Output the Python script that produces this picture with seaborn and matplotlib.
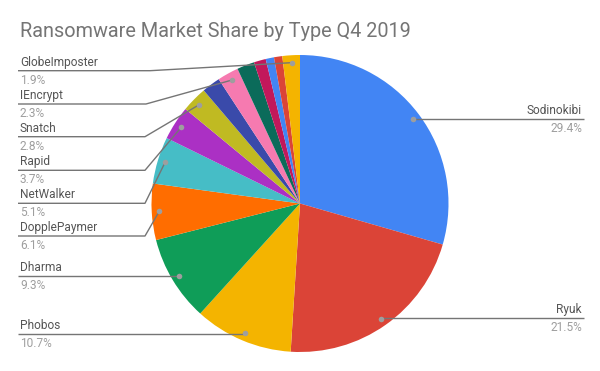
import numpy as np
import matplotlib
matplotlib.use("Agg")
import matplotlib.pyplot as plt
import seaborn as sns

# ransomware share, clockwise from 12 o'clock
families = ["Sodinokibi", "Ryuk", "Phobos", "Dharma", "DopplePaymer", "NetWalker",
            "Rapid", "Snatch", "Other A", "IEncrypt", "Other B", "Other C",
            "Other D", "Other E", "GlobeImposter"]
shares = [29.4, 21.5, 10.7, 9.3, 6.1, 5.1, 3.7, 2.8, 2.0, 2.3, 1.9, 1.3, 0.9, 0.9, 1.9]
colors = ["#4285F4", "#DB4437", "#F4B400", "#0F9D58", "#FF6D00", "#46BDC6",
          "#AB30C4", "#C0BA22", "#3A4AAA", "#F67AB0", "#0B6B5A", "#C2185B",
          "#4285F4", "#DB4437", "#F4B400"]

# which slices get a callout: (name, side, underline y px, elbow x px)
callouts = [
    ("Sodinokibi", "right", 118.7, None),
    ("Ryuk", "right", 318.3, None),
    ("Phobos", "left", 334.0, None),
    ("Dharma", "left", 276.0, None),
    ("DopplePaymer", "left", 236.0, 145),
    ("NetWalker", "left", 203.3, 145),
    ("Rapid", "left", 170.3, 145),
    ("Snatch", "left", 136.7, 145),
    ("IEncrypt", "left", 104.0, 146),
    ("GlobeImposter", "left", 70.7, 150),
]

sns.set_theme(style="white")
plt.rcParams["font.family"] = ["Roboto", "DejaVu Sans"]

W, H = 600, 371
cx, cy, R = 300.0, 203.5, 148.5
fig = plt.figure(figsize=(W / 100, H / 100), dpi=100)
fig.patch.set_facecolor("white")

ax = fig.add_axes([(cx - R) / W, (H - cy - R) / H, 2 * R / W, 2 * R / H])
wedges, _ = ax.pie(shares, colors=colors, startangle=90, counterclock=False,
                   radius=1, wedgeprops=dict(linewidth=0))
ax.set_xlim(-1, 1)
ax.set_ylim(-1, 1)
ax.axis("off")

# overlay in pixel coordinates for callouts
ov = fig.add_axes([0, 0, 1, 1])
ov.set_xlim(0, W)
ov.set_ylim(H, 0)
ov.axis("off")

ov.text(20, 31.5, "Ransomware Market Share by Type Q4 2019", fontsize=14.3,
        color="#757575", ha="left", va="center")

line_c = "#757575"
for name, side, uy, ex in callouts:
    i = families.index(name)
    w = wedges[i]
    mid = np.deg2rad((w.theta1 + w.theta2) / 2)
    dx = cx + 0.95 * R * np.cos(mid)
    dy = cy - 0.95 * R * np.sin(mid)
    pct = f"{shares[i]:.1f}%"
    if side == "right":
        ov.plot([dx, 584], [uy, uy], color=line_c, lw=1, solid_capstyle="butt")
        tx, ha = 582, "right"
    else:
        if ex is None:
            ov.plot([18, dx], [uy, uy], color=line_c, lw=1, solid_capstyle="butt")
        else:
            ov.plot([18, ex, dx], [uy, uy, dy], color=line_c, lw=1, solid_capstyle="butt")
        tx, ha = 20, "left"
    ov.plot([dx], [dy], "o", ms=4, color="#9E9E9E", mec="none")
    ov.text(tx, uy - 8.5, name, fontsize=8.6, color="#555555", ha=ha, va="center")
    ov.text(tx, uy + 9.5, pct, fontsize=8.6, color="#9E9E9E", ha=ha, va="center")

fig.savefig("out.png", dpi=100, facecolor="white")
